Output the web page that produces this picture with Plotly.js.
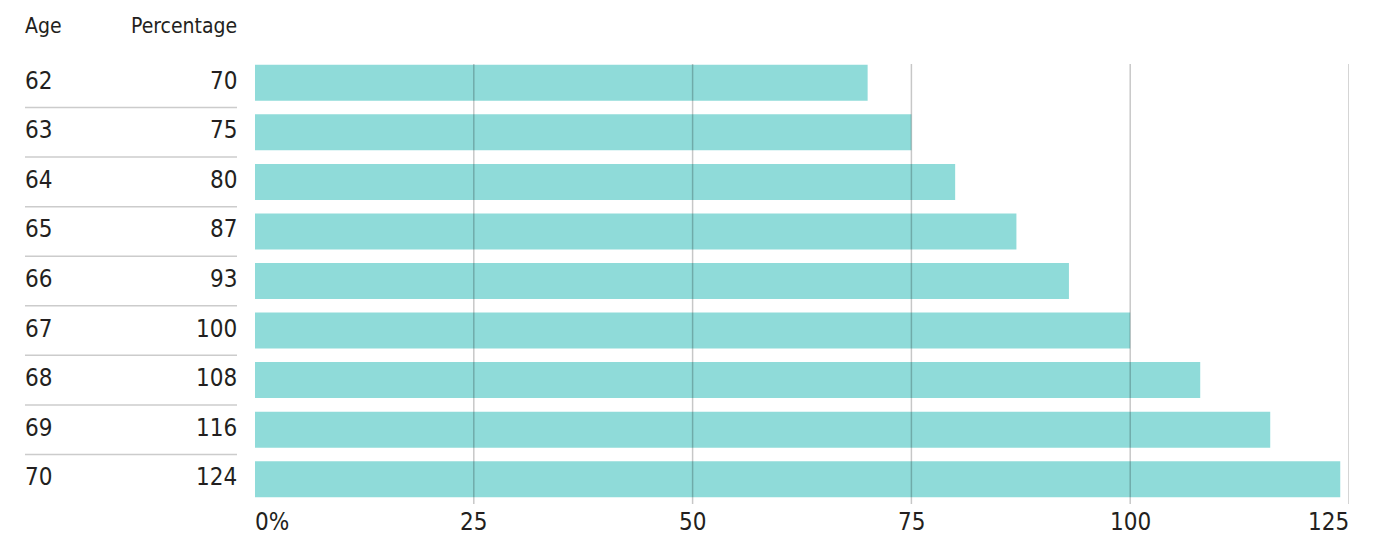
<!DOCTYPE html>
<html>
<head>
<meta charset="utf-8">
<script src="https://cdn.plot.ly/plotly-3.0.1.min.js"></script>
<style>
  html, body { margin: 0; padding: 0; background: #fff; }
  #chart { width: 1378px; height: 556px; }
</style>
</head>
<body>
<div id="chart"></div>
<script>
const ages = ['62', '63', '64', '65', '66', '67', '68', '69', '70'];
const percentages = [70, 75, 80, 87, 93, 100, 108, 116, 124];
const tickValues = [0, 25, 50, 75, 100, 125];
const tickLabels = ['0%', '25', '50', '75', '100', '125'];

const font = '"Liberation Sans Narrow", "DejaVu Sans Condensed", "Arial Narrow", sans-serif';
const textColor = '#231f20';
const barColor = '#8fdbd9';

// plot area in pixels, used to place the left-hand table in paper units
const plotLeft = 255;
const plotRight = 1349;
const plotWidth = plotRight - plotLeft;
const px = p => (p - plotLeft) / plotWidth;

const data = [
    {
        type: 'bar',
        orientation: 'h',
        x: percentages,
        y: ages,
        marker: {color: barColor},
        hoverinfo: 'x+y'
    }
];

const annotations = [];
const shapes = [];

// table header
annotations.push({
    xref: 'paper', yref: 'paper', x: px(23), y: 1, yshift: 32,
    xanchor: 'left', yanchor: 'middle', showarrow: false,
    text: 'Age', font: {family: font, size: 21, color: textColor}
});
annotations.push({
    xref: 'paper', yref: 'paper', x: px(239), y: 1, yshift: 32,
    xanchor: 'right', yanchor: 'middle', showarrow: false,
    text: 'Percentage', font: {family: font, size: 21, color: textColor}
});

// table rows
ages.forEach((age, i) => {
    annotations.push({
        xref: 'paper', yref: 'y', x: px(23), y: i, yshift: 2,
        xanchor: 'left', yanchor: 'middle', showarrow: false,
        text: age, font: {family: font, size: 24, color: textColor}
    });
    annotations.push({
        xref: 'paper', yref: 'y', x: px(239), y: i, yshift: 2,
        xanchor: 'right', yanchor: 'middle', showarrow: false,
        text: String(percentages[i]), font: {family: font, size: 24, color: textColor}
    });
    if (i < ages.length - 1) {
        shapes.push({
            type: 'line', xref: 'paper', yref: 'y',
            x0: px(25), x1: px(237), y0: i + 0.5, y1: i + 0.5,
            line: {color: '#cccccc', width: 1.5}
        });
    }
});

// x tick labels: first left-aligned, last right-aligned
tickValues.forEach((v, i) => {
    let anchor = 'center';
    let shift = 0;
    if (i === 0) { anchor = 'left'; shift = -2; }
    if (i === tickValues.length - 1) { anchor = 'right'; shift = 2; }
    annotations.push({
        xref: 'x', yref: 'paper', x: v, y: 0, yshift: -18, xshift: shift,
        xanchor: anchor, yanchor: 'middle', showarrow: false,
        text: tickLabels[i], font: {family: font, size: 24, color: textColor}
    });
});

// gridlines drawn over the bars
tickValues.slice(1).forEach(v => {
    shapes.push({
        type: 'line', xref: 'x', yref: 'y', layer: 'above',
        x0: v, x1: v, y0: -0.38, y1: ages.length - 0.5,
        line: {color: 'rgba(0,0,0,0.22)', width: 1.5}
    });
});

const layout = {
    width: 1378,
    height: 556,
    margin: {l: plotLeft, r: 1378 - plotRight, t: 58, b: 52},
    paper_bgcolor: '#ffffff',
    plot_bgcolor: '#ffffff',
    showlegend: false,
    bargap: 0.273,
    font: {family: font, color: textColor},
    xaxis: {
        range: [0, 125],
        showgrid: false,
        zeroline: false,
        showline: false,
        showticklabels: false,
        ticks: '',
        fixedrange: true
    },
    yaxis: {
        type: 'category',
        range: [ages.length - 0.5, -0.5],
        showgrid: false,
        zeroline: false,
        showline: false,
        showticklabels: false,
        ticks: '',
        fixedrange: true
    },
    annotations: annotations,
    shapes: shapes
};

const config = {displayModeBar: false};

Plotly.newPlot('chart', data, layout, config);
</script>
</body>
</html>
